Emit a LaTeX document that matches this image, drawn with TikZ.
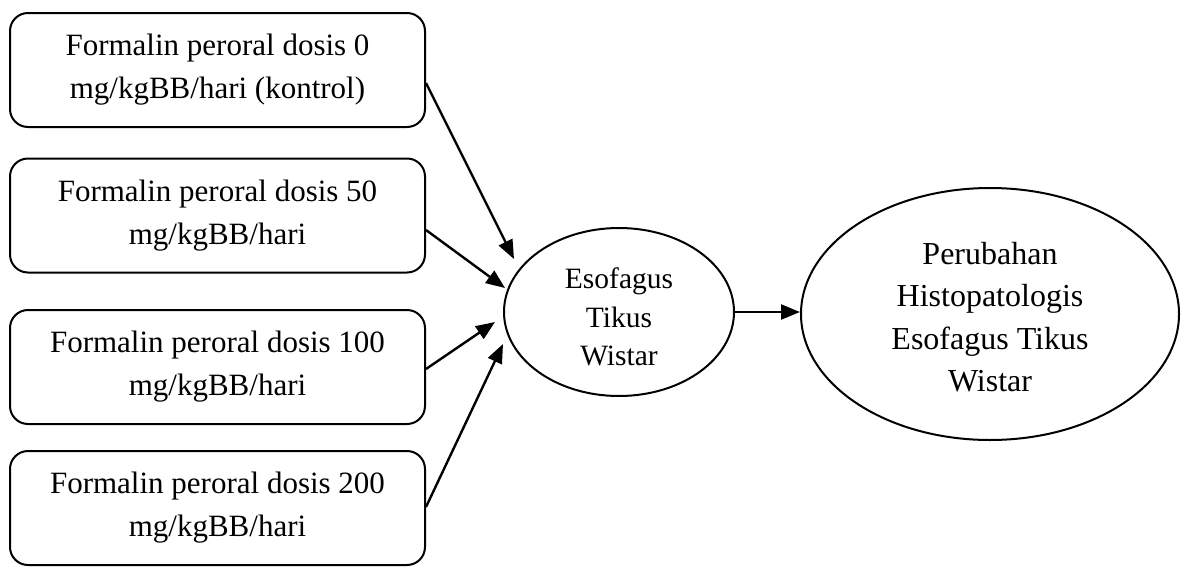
\documentclass[tikz,border=0pt]{standalone}
\usepackage{fontspec}
\setmainfont{Liberation Serif}
\usetikzlibrary{arrows.meta,shapes.geometric}
\begin{document}
\begin{tikzpicture}[x=1pt,y=-1pt,
 box/.style={draw, line width=2pt, rounded corners=18pt, minimum width=415pt, minimum height=114pt, align=center, font=\fontsize{31}{43}\selectfont, inner sep=0pt},
 ell/.style={draw, ellipse, line width=2pt, inner sep=0pt},
 lbl/.style={align=center, inner sep=0pt},
 arr/.style={line width=2.4pt, -{Triangle[length=19pt,width=15pt]}}]
\useasboundingbox (0,0) rectangle (1186,568);
\node[box] (b1) at (217.5,70) {Formalin peroral dosis 0\\mg/kgBB/hari (kontrol)};
\node[box] (b2) at (217.5,215.5) {Formalin peroral dosis 50\\mg/kgBB/hari};
\node[box] (b3) at (217.5,367) {Formalin peroral dosis 100\\mg/kgBB/hari};
\node[box] (b4) at (217.5,508) {Formalin peroral dosis 200\\mg/kgBB/hari};
\node[ell, minimum width=230pt, minimum height=168pt] (e1) at (619,312) {};
\node[lbl, font=\fontsize{29.5}{38.5}\selectfont] (e1t) at (619,317) {Esofagus\\Tikus\\Wistar};
\node[ell, minimum width=378pt, minimum height=252pt] (e2) at (990,314) {};
\node[lbl, font=\fontsize{32}{42.5}\selectfont] (e2t) at (990,317) {Perubahan\\Histopatologis\\Esofagus Tikus\\Wistar};
\coordinate (t1) at (514,259);
\coordinate (t2) at (505,288);
\coordinate (t3) at (495,322);
\coordinate (t4) at (503,344);
\draw[arr] ([yshift=-13pt]b1.east) -- (t1);
\draw[arr] ([yshift=-14.5pt]b2.east) -- (t2);
\draw[arr] ([yshift=-2pt]b3.east) -- (t3);
\draw[arr] ([yshift=1pt]b4.east) -- (t4);
\draw[arr] (e1.east) -- (e1.east -| e2.west);
\end{tikzpicture}
\end{document}
